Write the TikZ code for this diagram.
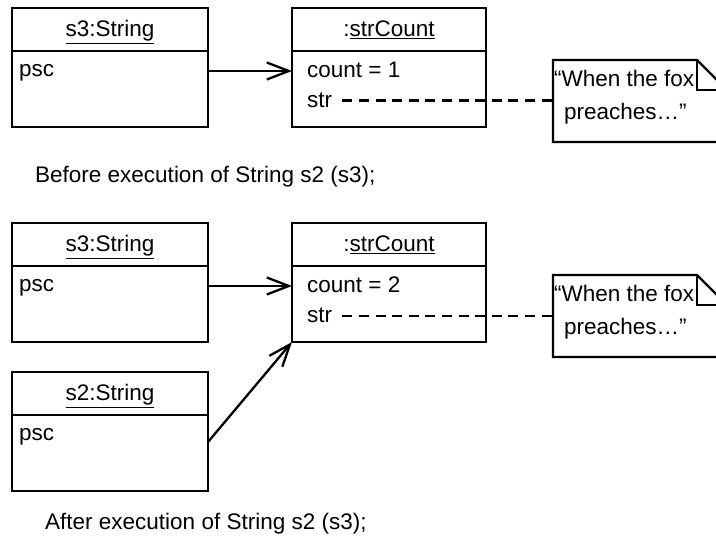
\documentclass[tikz,border=0pt]{standalone}
\usepackage{fontspec}
\setmainfont{Liberation Sans}
\usetikzlibrary{arrows.meta}
\begin{document}
\begin{tikzpicture}[x=1pt,y=-1pt,
  box/.style={draw,line width=2.3pt,anchor=north west,minimum width=196pt,minimum height=119pt,inner sep=0pt,outer sep=0pt},
  txt/.style={font=\fontsize{22.5}{27}\selectfont,inner sep=0pt,anchor=base west},
  ttl/.style={font=\fontsize{22.5}{27}\selectfont,inner sep=0pt,anchor=base},
  hline/.style={line width=2.3pt},
  assoc/.style={line width=2.3pt,-{Straight Barb[length=22pt,width=17pt,line width=2.3pt]}},
  link/.style={line width=2.3pt,dash pattern=on 10pt off 6.6pt},
  noteline/.style={line width=2.3pt},
  fold/.style={line width=1.1pt}]
\useasboundingbox (0,0) rectangle (716,537);
\clip (0,0) rectangle (716,537);
% ---------- before ----------
\node[box] (s3a) at (12,8) {};
\draw[hline] ([yshift=-43pt]s3a.north west) -- ([yshift=-43pt]s3a.north east);
\node[ttl] (s3aT) at (110,37) {\underline{s3:String}};
\node[txt] (s3aP) at (19,77) {psc};
\node[box,minimum width=194pt] (sca) at (292,8) {};
\draw[hline] ([yshift=-43pt]sca.north west) -- ([yshift=-43pt]sca.north east);
\node[ttl] (scaT) at (389,37) {:\underline{strCount}};
\node[txt] (scaC) at (307,78) {count = 1};
\node[txt] (scaS) at (307,108) {str};
\coordinate (r1) at (0,71);
\coordinate (r2) at (0,100.5);
\draw[assoc] (s3a.east |- r1) -- (sca.west |- r1);
\node[anchor=north west,minimum width=174pt,minimum height=82pt,inner sep=0pt,outer sep=0pt] (noteA) at (553,60) {};
\draw[noteline] (noteA.north west) -- ++(144,0) -- ++(30,30) -- (noteA.south east) -- (noteA.south west) -- cycle;
\draw[fold] ([xshift=144pt]noteA.north west) -- ++(0,30) -- ++(30,0);
\node[txt] (noteAT1) at (554,87) {“When the fox};
\node[txt] (noteAT2) at (564,120) {preaches…”};
\draw[link] ([xshift=10pt]scaS.east |- r2) -- (noteA.west |- r2);
\node[txt] (capA) at (35,183) {Before execution of String s2 (s3);};
% ---------- after ----------
\node[box] (s3b) at (12,223) {};
\draw[hline] ([yshift=-43pt]s3b.north west) -- ([yshift=-43pt]s3b.north east);
\node[ttl] (s3bT) at (110,252) {\underline{s3:String}};
\node[txt] (s3bP) at (19,292) {psc};
\node[box,minimum width=194pt] (scb) at (292,223) {};
\draw[hline] ([yshift=-43pt]scb.north west) -- ([yshift=-43pt]scb.north east);
\node[ttl] (scbT) at (389,252) {:\underline{strCount}};
\node[txt] (scbC) at (307,293) {count = 2};
\node[txt] (scbS) at (307,323) {str};
\coordinate (r3) at (0,286);
\coordinate (r4) at (0,316);
\draw[assoc] (s3b.east |- r3) -- (scb.west |- r3);
\node[anchor=north west,minimum width=174pt,minimum height=82pt,inner sep=0pt,outer sep=0pt] (noteB) at (553,275) {};
\draw[noteline] (noteB.north west) -- ++(144,0) -- ++(30,30) -- (noteB.south east) -- (noteB.south west) -- cycle;
\draw[fold] ([xshift=144pt]noteB.north west) -- ++(0,30) -- ++(30,0);
\node[txt] (noteBT1) at (554,302) {“When the fox};
\node[txt] (noteBT2) at (564,335) {preaches…”};
\draw[link] ([xshift=10pt]scbS.east |- r4) -- (noteB.west |- r4);
\node[box] (s2b) at (12,372) {};
\draw[hline] ([yshift=-43pt]s2b.north west) -- ([yshift=-43pt]s2b.north east);
\node[ttl] (s2bT) at (110,401) {\underline{s2:String}};
\node[txt] (s2bP) at (19,441) {psc};
\coordinate (r5) at (0,442);
\draw[assoc] (s2b.east |- r5) -- (scb.south west);
\node[txt] (capB) at (45,530) {After execution of String s2 (s3);};
\end{tikzpicture}
\end{document}
